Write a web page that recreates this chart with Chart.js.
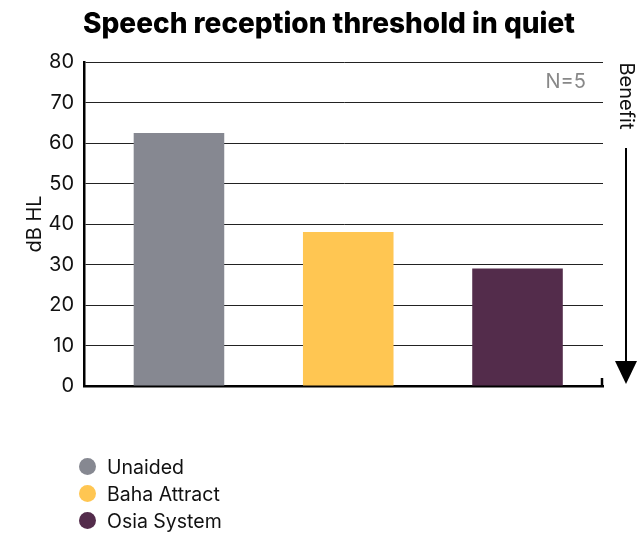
<!DOCTYPE html>
<html>
<head>
<meta charset="utf-8">
<script src="https://cdn.jsdelivr.net/npm/chart.js@4"></script>
<style>
  html, body { margin: 0; padding: 0; background: #fff; }
  #wrap { position: relative; width: 638px; height: 535px; }
  #legend { position: absolute; left: 79px; top: 453px; font-family: "Inter", "DejaVu Sans", sans-serif; font-size: 19.5px; color: #111; }
  #legend .row { height: 27px; display: flex; align-items: center; }
  #legend .dot { width: 17px; height: 17px; border-radius: 50%; margin-right: 11px; }
</style>
</head>
<body>
<div id="wrap">
  <canvas id="c" width="638" height="535"></canvas>
  <div id="legend"></div>
</div>
<script>
const categories = ["Unaided", "Baha Attract", "Osia System"];
const values = [62.5, 38, 29];
const colors = ["#868891", "#FFC652", "#532C4B"];
const yTicks = [0, 10, 20, 30, 40, 50, 60, 70, 80];
const titleText = "Speech reception threshold in quiet";
const yTitle = "dB HL";
const noteText = "N=5";
const benefitText = "Benefit";

const FONT = '"Inter", "DejaVu Sans", sans-serif';

const legend = document.getElementById('legend');
categories.forEach((c, i) => {
  const r = document.createElement('div'); r.className = 'row';
  const d = document.createElement('div'); d.className = 'dot'; d.style.background = colors[i];
  const t = document.createElement('span'); t.textContent = c;
  r.appendChild(d); r.appendChild(t); legend.appendChild(r);
});

const extras = {
  id: 'extras',
  afterDraw(chart) {
    const ctx = chart.ctx;
    const a = chart.chartArea;
    ctx.save();
    // title
    ctx.fillStyle = '#000';
    ctx.font = '800 28px ' + FONT;
    ctx.textAlign = 'center';
    ctx.textBaseline = 'middle';
    ctx.fillText(titleText, 329, 25);
    // N=5
    ctx.fillStyle = '#888';
    ctx.font = '20px ' + FONT;
    ctx.textAlign = 'right';
    ctx.fillText(noteText, 586, 82);
    // right corner tick
    ctx.strokeStyle = '#000';
    ctx.lineWidth = 2.5;
    ctx.beginPath();
    ctx.moveTo(a.right - 1, a.bottom + 1);
    ctx.lineTo(a.right - 1, a.bottom - 8);
    ctx.stroke();
    // arrow
    const ax = 626;
    ctx.lineWidth = 2;
    ctx.beginPath();
    ctx.moveTo(ax, 148);
    ctx.lineTo(ax, 366);
    ctx.stroke();
    ctx.fillStyle = '#000';
    ctx.beginPath();
    ctx.moveTo(ax - 11, 361);
    ctx.lineTo(ax + 11, 361);
    ctx.lineTo(ax, 384);
    ctx.closePath();
    ctx.fill();
    // Benefit text rotated
    ctx.translate(ax, 96);
    ctx.rotate(Math.PI / 2);
    ctx.fillStyle = '#111';
    ctx.font = '20px ' + FONT;
    ctx.textAlign = 'center';
    ctx.textBaseline = 'middle';
    ctx.fillText(benefitText, 0, 0);
    ctx.restore();
  }
};

new Chart(document.getElementById('c'), {
  type: 'bar',
  data: {
    datasets: [{
      data: values.map((v, i) => ({ x: i, y: v })),
      backgroundColor: colors, borderWidth: 0,
      categoryPercentage: 1, barPercentage: 1.07
    }]
  },
  options: {
    responsive: false,
    animation: false,
    events: [],
    layout: { padding: { left: 20, right: 35, top: 62, bottom: 149 } },
    plugins: { legend: { display: false }, tooltip: { enabled: false }, title: { display: false } },
    scales: {
      x: {
        type: 'linear',
        min: -0.561, max: 2.505,
        offset: false,
        ticks: { display: false },
        grid: { display: false, drawTicks: false },
        border: { color: '#000', width: 2.5 },
        afterFit: s => { s.height = 0; }
      },
      y: {
        min: 0, max: 80,
        afterBuildTicks: s => { s.ticks = yTicks.map(v => ({ value: v })); },
        ticks: { color: '#111', font: { family: FONT, size: 20 }, padding: 10 },
        grid: { color: '#222', lineWidth: 1, drawTicks: false },
        border: { color: '#000', width: 2.5 },
        title: { display: true, text: yTitle, color: '#111', font: { family: FONT, size: 20 }, padding: { top: 3, bottom: 0 } },
        afterFit: s => { s.width = 64; }
      }
    }
  },
  plugins: [extras]
});
</script>
</body>
</html>
